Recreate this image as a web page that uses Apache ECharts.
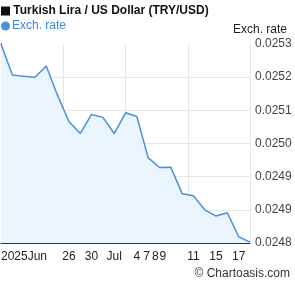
<!DOCTYPE html>
<html>
<head>
<meta charset="utf-8">
<script src="https://cdn.jsdelivr.net/npm/echarts@6/dist/echarts.min.js"></script>
<style>html,body{margin:0;padding:0;background:#fff;}#c{width:295px;height:288px;}</style>
</head>
<body>
<div id="c"></div>
<script>
const dates = ['2025-06-18','2025-06-19','2025-06-20','2025-06-23','2025-06-24','2025-06-25','2025-06-26','2025-06-27','2025-06-30',
  '2025-07-01','2025-07-02','2025-07-03','2025-07-04','2025-07-07','2025-07-08','2025-07-09','2025-07-10','2025-07-11',
  '2025-07-14','2025-07-15','2025-07-16','2025-07-17','2025-07-18'];
const rates = [0.02526,0.025185,0.025182,0.02518,0.025207,0.025136,0.025073,0.025044,0.02509,
  0.025083,0.025044,0.025094,0.025085,0.024986,0.024962,0.024963,0.024899,0.024894,
  0.02486,0.024845,0.024853,0.024795,0.024782];
const tickDates = ['2025-06-18','2025-06-26','2025-06-30','2025-07-02','2025-07-04','2025-07-07','2025-07-08','2025-07-09','2025-07-11','2025-07-15','2025-07-17'];
const tickTexts = ['2025Jun','26','30','Jul','4','7','8','9','11','15','17'];
const yMin = 0.02478, yMax = 0.02526, yStep = 0.00008;

const FONT = 'Liberation Sans, Arial, sans-serif';
const chart = echarts.init(document.getElementById('c'), null, {renderer:'canvas'});
chart.setOption({
  animation: false,
  textStyle: {fontFamily: FONT},
  title: {
    text: '{sq|} Turkish Lira / US Dollar (TRY/USD)',
    left: 1, top: 5, padding: 0,
    textStyle: {
      fontFamily: FONT, fontSize: 12, fontWeight: 'bold', color: '#111',
      rich: {sq: {width: 9, height: 9, backgroundColor: '#111'}}
    }
  },
  legend: {
    left: 1, top: 20, padding: 0,
    icon: 'circle', itemWidth: 9, itemHeight: 9, itemGap: 5,
    textStyle: {fontFamily: FONT, fontSize: 12, color: '#3d86e0', padding: [0,0,0,-3]},
    data: ['Exch. rate']
  },
  grid: {left: 1, right: 45, top: 44, bottom: 45, containLabel: false, outerBoundsMode: 'none'},
  xAxis: [{
    type: 'category', data: dates, boundaryGap: false,
    axisLine: {show: true, lineStyle: {color: '#333', width: 1}},
    axisTick: {show: false},
    splitLine: {show: false},
    axisLabel: {
      fontFamily: FONT, fontSize: 12, color: '#222', margin: 8,
      alignMinLabel: 'left',
      interval: (i, v) => tickDates.indexOf(v) >= 0,
      formatter: v => {
        const t = tickTexts[tickDates.indexOf(v)];
        if (t === '7') return '{a|7}';
        if (t === '8') return '{b|8}';
        if (t === '9') return '{c|9}';
        return t;
      },
      rich: {
        a: {fontFamily: FONT, fontSize: 12, color: '#222', padding: [0, 3, 0, 0]},
        b: {fontFamily: FONT, fontSize: 12, color: '#222', padding: [0, 8, 0, 0]},
        c: {fontFamily: FONT, fontSize: 12, color: '#222', padding: [0, 16, 0, 0]}
      }
    }
  }, {
    type: 'value', min: 0, max: 4, interval: 1, position: 'bottom',
    axisLine: {show: false}, axisTick: {show: false}, axisLabel: {show: false},
    splitLine: {show: true, lineStyle: {color: '#e6e6e6', width: 1}}
  }],
  yAxis: [{
    type: 'value', position: 'right', min: yMin, max: yMax, interval: yStep,
    axisLine: {show: true, lineStyle: {color: '#333', width: 1}},
    axisTick: {show: false},
    axisLabel: {fontFamily: FONT, fontSize: 12, color: '#444', margin: 5, formatter: v => v.toFixed(4)},
    splitLine: {show: true, lineStyle: {color: ['#e6e6e6','#e6e6e6','#e6e6e6','#e6e6e6','#e6e6e6','#e6e6e6','rgba(0,0,0,0)'], width: 1}}
  }, {
    type: 'value', position: 'left', min: yMin, max: yMax, interval: yStep,
    axisLine: {show: true, onZero: false, lineStyle: {color: '#333', width: 1}},
    axisTick: {show: false}, axisLabel: {show: false}, splitLine: {show: false}
  }],
  series: [{
    name: 'Exch. rate', type: 'line', data: rates,
    showSymbol: false, symbol: 'none',
    lineStyle: {color: '#4a90e2', width: 1.5},
    itemStyle: {color: '#4a90e2'},
    areaStyle: {color: '#eaf5ff', opacity: 1},
    z: 3
  }],
  graphic: [{
    type: 'text', right: 8, top: 24,
    style: {text: 'Exch. rate', fontFamily: FONT, fontSize: 12, fill: '#222'}
  }, {
    type: 'text', right: 5, top: 268,
    style: {text: '© Chartoasis.com', fontFamily: FONT, fontSize: 12, fill: '#333'}
  }]
});
</script>
</body>
</html>
